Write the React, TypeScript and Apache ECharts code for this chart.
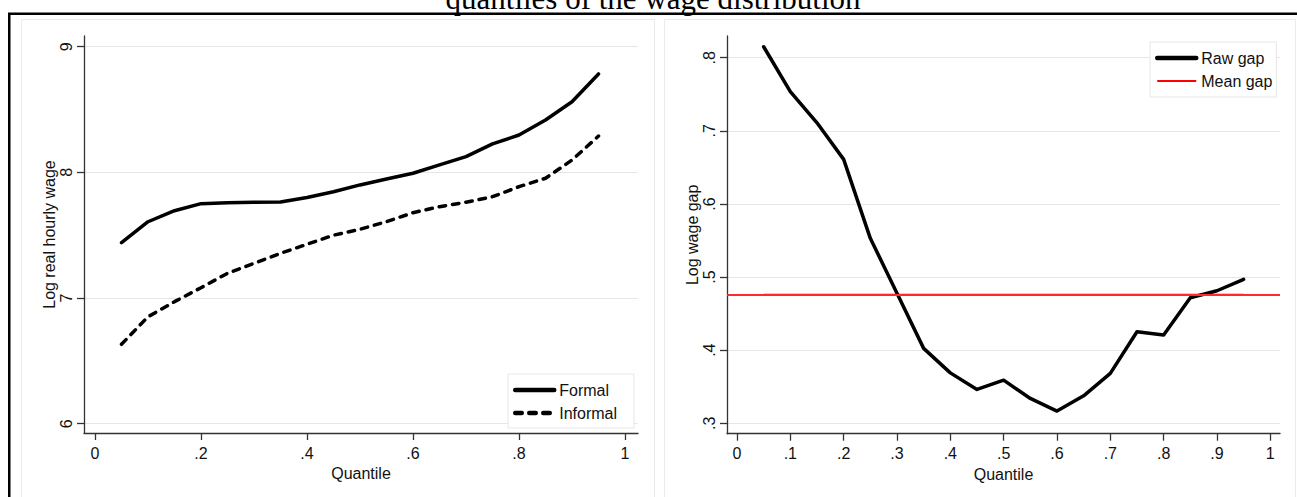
import React, { useEffect, useRef } from "react";
import * as echarts from "echarts";

const FONT = '"Liberation Sans", Arial, Helvetica, sans-serif';

const titleText = "quantiles of the wage distribution";

const quantiles = [0.05, 0.1, 0.15, 0.2, 0.25, 0.3, 0.35, 0.4, 0.45, 0.5, 0.55, 0.6, 0.65, 0.7, 0.75, 0.8, 0.85, 0.9, 0.95];

const formal = [7.44, 7.607, 7.695, 7.751, 7.759, 7.763, 7.764, 7.8, 7.846, 7.9, 7.947, 7.993, 8.059, 8.125, 8.226, 8.297, 8.417, 8.562, 8.783];
const informal = [6.632, 6.851, 6.971, 7.082, 7.197, 7.276, 7.356, 7.428, 7.5, 7.547, 7.608, 7.679, 7.727, 7.762, 7.806, 7.886, 7.953, 8.098, 8.289];

const rawGap = [0.815, 0.7535, 0.711, 0.661, 0.553, 0.478, 0.4025, 0.369, 0.3464, 0.359, 0.334, 0.3167, 0.3376, 0.3683, 0.4252, 0.4207, 0.4718, 0.4813, 0.4968];
const meanGap = 0.476;

const leftXTicks = [0, 0.2, 0.4, 0.6, 0.8, 1];
const leftYTicks = [6, 7, 8, 9];
const rightXTicks = [0, 0.1, 0.2, 0.3, 0.4, 0.5, 0.6, 0.7, 0.8, 0.9, 1];
const rightYTicks = [0.3, 0.4, 0.5, 0.6, 0.7, 0.8];

const fmt = (v: number) => {
  if (v === 0) return "0";
  if (Number.isInteger(v)) return String(v);
  return String(+v.toFixed(2)).replace(/^0\./, ".");
};

const AXIS_COLOR = "#333";
const GRID_COLOR = "#e6e6e6";
const TEXT_COLOR = "#111";

function makeX(gridIndex: number, min: number, max: number, ticks: number[]) {
  return {
    type: "value",
    gridIndex,
    min,
    max,
    name: "Quantile",
    nameLocation: "middle",
    nameGap: 29,
    nameTextStyle: { fontSize: 16, color: TEXT_COLOR, fontFamily: FONT },
    axisLine: { show: true, onZero: false, lineStyle: { color: AXIS_COLOR, width: 1.3 } },
    axisTick: { show: true, length: 7, customValues: ticks, lineStyle: { color: AXIS_COLOR, width: 1.3 } },
    axisLabel: {
      customValues: ticks,
      formatter: fmt,
      margin: 12,
      fontSize: 16,
      color: TEXT_COLOR,
      fontFamily: FONT,
    },
    splitLine: { show: false },
  };
}

function makeY(gridIndex: number, min: number, max: number, ticks: number[], name: string) {
  return {
    type: "value",
    gridIndex,
    min,
    max,
    name,
    nameLocation: "middle",
    nameGap: 27,
    nameTextStyle: { fontSize: 16, color: TEXT_COLOR, fontFamily: FONT },
    axisLine: { show: true, onZero: false, lineStyle: { color: AXIS_COLOR, width: 1.3 } },
    axisTick: { show: true, length: 7, customValues: ticks, lineStyle: { color: AXIS_COLOR, width: 1.3 } },
    axisLabel: {
      customValues: ticks,
      formatter: fmt,
      rotate: 90,
      margin: 10,
      fontSize: 16,
      color: TEXT_COLOR,
      fontFamily: FONT,
    },
    splitLine: { show: true, lineStyle: { color: GRID_COLOR, width: 1.2 } },
  };
}

const legendBase = {
  orient: "vertical",
  itemWidth: 39,
  itemHeight: 14,
  itemGap: 5,
  borderColor: "#e6e6e6",
  borderWidth: 1,
  backgroundColor: "#fff",
  selectedMode: false,
  itemStyle: { opacity: 0 },
  textStyle: { fontSize: 16, color: TEXT_COLOR, fontFamily: FONT, lineHeight: 18 },
};

export default function App() {
  const ref = useRef<HTMLDivElement>(null);
  useEffect(() => {
    if (!ref.current) return;
    const chart = echarts.init(ref.current, undefined, { renderer: "svg" });
    const blackLine = { color: "#000", width: 3.5, cap: "round", join: "round" };
    chart.setOption({
      animation: false,
      backgroundColor: "#fff",
      graphic: [
        {
          type: "rect",
          z: 0,
          shape: { x: 21.5, y: 19.5, width: 633, height: 500 },
          style: { fill: "none", stroke: "#ebebeb", lineWidth: 1 },
        },
        {
          type: "rect",
          z: 0,
          shape: { x: 664.5, y: 19.5, width: 631, height: 500 },
          style: { fill: "none", stroke: "#ebebeb", lineWidth: 1 },
        },
        {
          type: "rect",
          z: 0,
          shape: { x: 9.25, y: 13.75, width: 1400, height: 600 },
          style: { fill: "none", stroke: "#000", lineWidth: 2.5 },
        },
        {
          type: "text",
          x: 653,
          y: -2,
          style: {
            text: titleText,
            fontSize: 31,
            fontFamily: '"Liberation Serif", "Times New Roman", serif',
            fill: "#000",
            align: "center",
            verticalAlign: "middle",
          },
        },
      ],
      grid: [
        { left: 84, right: 1297 - 638, top: 36, bottom: 497 - 433 },
        { left: 727, right: 1297 - 1280, top: 36, bottom: 497 - 433.7 },
      ],
      xAxis: [
        makeX(0, -0.0208, 1.0245, leftXTicks),
        makeX(1, -0.01875, 1.0182, rightXTicks),
      ],
      yAxis: [
        makeY(0, 5.926, 9.085, leftYTicks, "Log real hourly wage"),
        makeY(1, 0.2858, 0.8297, rightYTicks, "Log wage gap"),
      ],
      legend: [
        {
          ...legendBase,
          data: [
            { name: "Formal", lineStyle: { width: 4.5, type: "solid", cap: "round" } },
            { name: "Informal", lineStyle: { width: 4.5, type: [6.5, 7.5], cap: "round" } },
          ],
          left: 508,
          top: 374,
          padding: [7, 17, 6, 5],
        },
        {
          ...legendBase,
          data: [
            { name: "Raw gap", lineStyle: { width: 4.5, type: "solid", cap: "round" } },
            { name: "Mean gap", lineStyle: { width: 2, type: "solid", cap: "butt" } },
          ],
          left: 1150,
          top: 42,
          padding: [7, 4, 7, 5],
        },
      ],
      series: [
        {
          name: "Formal",
          type: "line",
          xAxisIndex: 0,
          yAxisIndex: 0,
          symbol: "none",
          z: 3,
          color: "#000",
          lineStyle: { ...blackLine },
          data: quantiles.map((q, i) => [q, formal[i]]),
        },
        {
          name: "Informal",
          type: "line",
          xAxisIndex: 0,
          yAxisIndex: 0,
          symbol: "none",
          z: 3,
          color: "#000",
          lineStyle: { ...blackLine, type: [6.5, 7] },
          data: quantiles.map((q, i) => [q, informal[i]]),
        },
        {
          name: "Mean gap",
          type: "line",
          xAxisIndex: 1,
          yAxisIndex: 1,
          symbol: "none",
          z: 3,
          color: "#ff0000",
          lineStyle: { color: "#ff0000", width: 2 },
          data: quantiles.map((q) => [q, meanGap]),
          markLine: {
            silent: true,
            symbol: "none",
            precision: 6,
            label: { show: false },
            lineStyle: { color: "#ff2a2a", width: 2, type: "solid" },
            data: [{ yAxis: meanGap }],
          },
        },
        {
          name: "Raw gap",
          type: "line",
          xAxisIndex: 1,
          yAxisIndex: 1,
          symbol: "none",
          z: 4,
          color: "#000",
          lineStyle: { ...blackLine },
          data: quantiles.map((q, i) => [q, rawGap[i]]),
        },
      ],
    });
    return () => chart.dispose();
  }, []);
  return (
    <div
      ref={ref}
      style={{ position: "fixed", left: 0, top: 0, width: 1297, height: 497, background: "#fff" }}
    />
  );
}
